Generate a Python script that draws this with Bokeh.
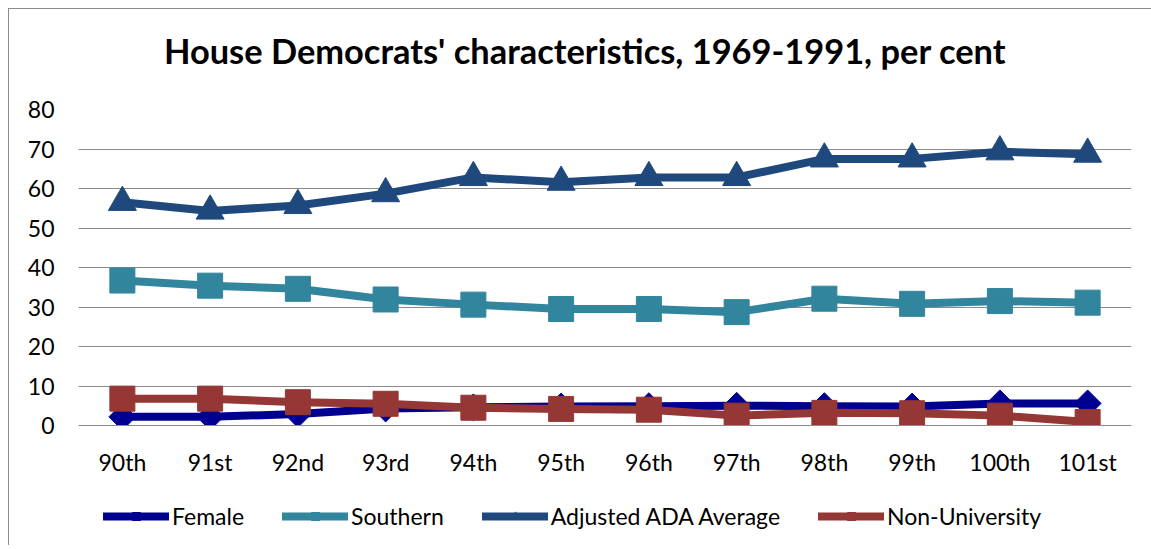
from bokeh.plotting import figure
from bokeh.models import FactorRange, Range1d, Legend, LegendItem, FixedTicker, Div
from bokeh.layouts import column
from bokeh.embed import file_html
from bokeh.resources import INLINE
import math

congress = ["90th", "91st", "92nd", "93rd", "94th", "95th", "96th", "97th", "98th", "99th", "100th", "101st"]
female = [2.2, 2.2, 2.9, 4.3, 4.6, 4.8, 4.9, 5.0, 4.9, 4.8, 5.6, 5.6]
southern = [36.7, 35.4, 34.6, 31.9, 30.6, 29.5, 29.5, 28.7, 32.1, 30.8, 31.5, 31.1]
ada = [56.5, 54.3, 55.7, 58.7, 62.8, 61.6, 62.8, 62.8, 67.5, 67.5, 69.3, 68.7]
nonuni = [6.8, 6.8, 5.9, 5.5, 4.5, 4.2, 4.0, 2.5, 3.2, 3.1, 2.5, 0.9]
y_ticks = [0, 10, 20, 30, 40, 50, 60, 70, 80]
title_text = "House Democrats' characteristics, 1969-1991, per cent"
legend_x = [-10, -9]
legend_y = [-10, -10]

FONT = "Lato"
GRID = "#8a8a8a"
W = 1132

title_div = Div(
    text=('<div style="padding-left:150px;padding-top:20px;font-family:Lato;font-weight:bold;'
          'font-size:34.4px;line-height:34px;white-space:nowrap;color:#000000;">'
          + title_text + '</div>'),
    width=W, height=50)

p = figure(frame_width=1053, frame_height=316, x_range=FactorRange(*congress, range_padding=0),
           y_range=Range1d(0, 80), output_backend="svg", toolbar_location=None,
           min_border_left=69, min_border_right=10, min_border_top=40, min_border_bottom=60)

p.outline_line_color = None
p.xgrid.grid_line_color = None
p.ygrid.grid_line_color = GRID
p.ygrid.grid_line_width = 1
p.yaxis.ticker = FixedTicker(ticks=y_ticks)
p.yaxis.axis_line_color = None
p.yaxis.major_tick_line_color = None
p.yaxis.minor_tick_line_color = None
p.yaxis.major_label_standoff = 18
p.yaxis.major_label_text_font = FONT
p.yaxis.major_label_text_font_size = "23px"
p.yaxis.major_label_text_color = "#000000"

p.xaxis.axis_line_color = GRID
p.xaxis.major_tick_line_color = None
p.xaxis.minor_tick_line_color = None
p.xaxis.major_label_standoff = 16
p.xaxis.major_label_text_font = FONT
p.xaxis.major_label_text_font_size = "23px"
p.xaxis.major_label_text_color = "#000000"

series = [
    ("Female", female, "#000090"),
    ("Southern", southern, "#31859C"),
    ("Adjusted ADA Average", ada, "#1F497D"),
    ("Non-University", nonuni, "#953735"),
]

def draw(fig, xs, vals, col, name):
    l = fig.line(xs, vals, line_color=col, line_width=8, line_join="round", line_cap="round")
    if name == "Female":
        s = fig.scatter(xs, vals, marker="square", angle=math.pi / 4, size=19,
                        fill_color=col, line_color=col)
    elif name in ("Southern", "Non-University"):
        s = fig.scatter(xs, vals, marker="square", size=25, fill_color=col, line_color=col)
    else:
        s = fig.scatter(xs, vals, marker="triangle", size=28, fill_color=col, line_color=col)
    return l, s

for name, vals, col in series:
    draw(p, congress, vals, col, name)

# legend strip (its frame is aligned with the main frame by the column layout)
lg = figure(width=W, height=60, x_range=Range1d(0, 1), y_range=Range1d(0, 1),
            output_backend="svg", toolbar_location=None, x_axis_type=None, y_axis_type=None,
            min_border=0)
lg.outline_line_color = None
lg.grid.grid_line_color = None
items = []
for name, vals, col in series:
    l, s = draw(lg, legend_x, legend_y, col, name)
    items.append(LegendItem(label=name, renderers=[l, s]))
legend = Legend(items=items, orientation="horizontal", location=(25, 15),
                border_line_color=None, background_fill_alpha=0,
                label_text_font=FONT, label_text_font_size="23px", label_text_color="#000000",
                glyph_width=66, glyph_height=20, label_standoff=3, spacing=38,
                margin=0, padding=0)
lg.add_layout(legend)

layout = column(title_div, p, lg, spacing=0)
layout.styles = {"margin-left": "8px", "margin-top": "8px",
                 "border-left": "1px solid #8c8c8c", "border-top": "1px solid #8c8c8c"}

open("out.html", "w").write(file_html(layout, INLINE))
